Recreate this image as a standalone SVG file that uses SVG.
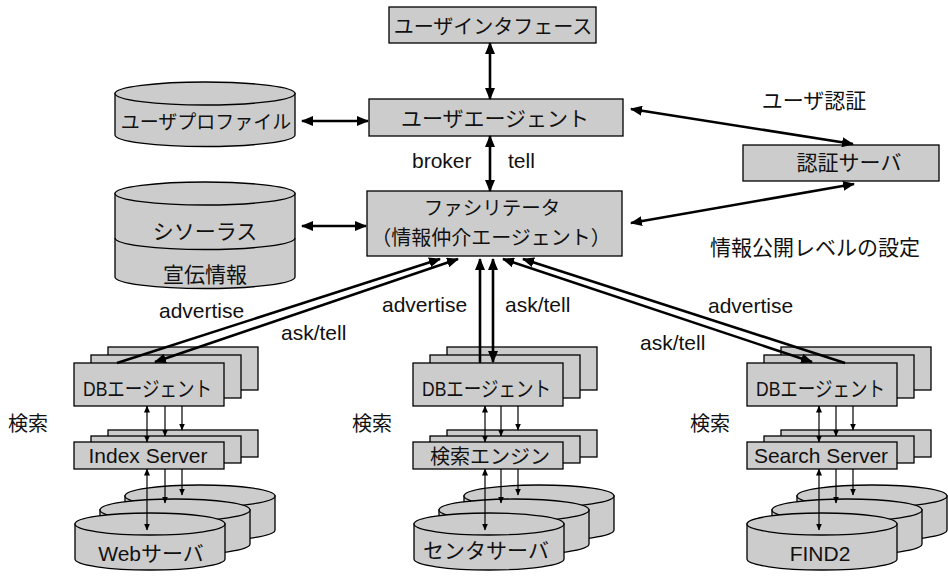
<svg xmlns="http://www.w3.org/2000/svg" width="948" height="576" viewBox="0 0 948 576">
<style>
.bx{fill:#cccccc;stroke:#000;stroke-width:1.3}
.cy{fill:#cccccc;stroke:#000;stroke-width:1.3}
.t{font-family:"Noto Sans CJK JP",sans-serif;font-size:21px;fill:#111;text-anchor:middle}
.l{font-family:"Liberation Sans","Noto Sans CJK JP",sans-serif;font-size:21px;fill:#111}
.lc{font-family:"Liberation Sans","Noto Sans CJK JP",sans-serif;font-size:21px;fill:#111;text-anchor:middle}
.k{stroke:#000;stroke-width:2.6;fill:none}
.s{stroke:#000;stroke-width:1.2;fill:none}
.big2{marker-start:url(#ah);marker-end:url(#ah)}
.big1{marker-end:url(#ah)}
.sm2{marker-start:url(#sh);marker-end:url(#sh)}
.sm1{marker-end:url(#sh)}
</style>
<defs>
<marker id="ah" viewBox="0 0 12 10" refX="11" refY="5" markerWidth="12" markerHeight="10" markerUnits="userSpaceOnUse" orient="auto-start-reverse"><path d="M0,0 L12,5 L0,10 z" fill="#000"/></marker>
<marker id="sh" viewBox="0 0 7 6" refX="6.5" refY="3" markerWidth="7" markerHeight="6" markerUnits="userSpaceOnUse" orient="auto-start-reverse"><path d="M0,0 L7,3 L0,6 z" fill="#000"/></marker>
</defs>

<g id="user-interface"><rect class="bx" x="389" y="7" width="207" height="36"/><text class="t" x="493" y="34" style="font-size:20px">ユーザインタフェース</text></g>
<g id="user-agent"><rect class="bx" x="369" y="99" width="254" height="37"/><text class="t" x="495" y="126">ユーザエージェント</text></g>
<g id="facilitator"><rect class="bx" x="367" y="191" width="255" height="65"/><text class="t" x="492" y="215" style="font-size:19.5px">ファシリテータ</text><text class="t" x="491" y="245" style="font-size:20px">（情報仲介エージェント）</text></g>
<g id="auth-server"><rect class="bx" x="743" y="145" width="196" height="36"/><text class="t" x="849" y="170">認証サーバ</text></g>

<g id="user-profile">
<path class="cy" d="M115,93.5 V135 A90,11.5 0 0 0 295,135 V93.5 Z"/>
<ellipse class="cy" cx="205" cy="93.5" rx="90" ry="11.5"/>
<text class="t" x="206" y="129" style="font-size:19px">ユーザプロファイル</text></g>
<g id="thesaurus">
<path class="cy" d="M115,193.5 V277 A90,11.5 0 0 0 295,277 V193.5 Z"/>
<ellipse class="cy" cx="205" cy="193.5" rx="90" ry="11.5"/>
<path class="s" style="stroke-width:1.3" d="M115,238 A90,11.5 0 0 0 295,238"/>
<text class="t" x="205" y="239">シソーラス</text>
<text class="t" x="205" y="282">宣伝情報</text></g>

<g id="labels">
<text class="t" x="814" y="108">ユーザ認証</text>
<text class="t" x="815" y="255">情報公開レベルの設定</text>
<text class="l" x="412" y="168">broker</text>
<text class="l" x="508" y="168">tell</text>
<text class="l" x="159" y="318">advertise</text>
<text class="l" x="281" y="340">ask/tell</text>
<text class="l" x="382" y="312">advertise</text>
<text class="l" x="505" y="312">ask/tell</text>
<text class="l" x="708" y="313">advertise</text>
<text class="l" x="640" y="350">ask/tell</text>
<text class="t" x="28" y="431" style="font-size:20px">検索</text>
<text class="t" x="372" y="431" style="font-size:20px">検索</text>
<text class="t" x="710" y="431" style="font-size:20px">検索</text>
</g>

<!-- left stack -->
<g id="db-agent-1"><rect class="bx" x="108" y="347" width="150" height="43"/><rect class="bx" x="91" y="355" width="150" height="43"/><rect class="bx" x="74" y="363" width="150" height="43"/><text class="lc" x="147.5" y="396" textLength="129" lengthAdjust="spacingAndGlyphs">DBエージェント</text></g>
<g id="index-server"><rect class="bx" x="108" y="430" width="150" height="27"/><rect class="bx" x="91" y="436" width="150" height="27"/><rect class="bx" x="74" y="442" width="150" height="27"/><text class="lc" x="148" y="463">Index Server</text></g>
<g id="web-server">
<path class="cy" d="M125,496 V530 A75,11 0 0 0 275,530 V496 Z"/><ellipse class="cy" cx="200" cy="496" rx="75" ry="11"/>
<path class="cy" d="M100,510 V544 A75,11 0 0 0 250,544 V510 Z"/><ellipse class="cy" cx="175" cy="510" rx="75" ry="11"/>
<path class="cy" d="M75,524 V559 A75,11 0 0 0 225,559 V524 Z"/><ellipse class="cy" cx="150" cy="524" rx="75" ry="11"/>
<text class="lc" x="151" y="561">Webサーバ</text></g>

<!-- middle stack -->
<g id="db-agent-2"><rect class="bx" x="447" y="347" width="150" height="43"/><rect class="bx" x="430" y="355" width="150" height="43"/><rect class="bx" x="413" y="363" width="150" height="43"/><text class="lc" x="486.5" y="396" textLength="129" lengthAdjust="spacingAndGlyphs">DBエージェント</text></g>
<g id="search-engine"><rect class="bx" x="447" y="430" width="150" height="27"/><rect class="bx" x="430" y="436" width="150" height="27"/><rect class="bx" x="413" y="442" width="150" height="27"/><text class="t" x="490" y="464" style="font-size:20px">検索エンジン</text></g>
<g id="center-server">
<path class="cy" d="M464,496 V530 A75,11 0 0 0 614,530 V496 Z"/><ellipse class="cy" cx="539" cy="496" rx="75" ry="11"/>
<path class="cy" d="M439,510 V544 A75,11 0 0 0 589,544 V510 Z"/><ellipse class="cy" cx="514" cy="510" rx="75" ry="11"/>
<path class="cy" d="M414,524 V559 A75,11 0 0 0 564,559 V524 Z"/><ellipse class="cy" cx="489" cy="524" rx="75" ry="11"/>
<text class="t" x="486" y="558">センタサーバ</text></g>

<!-- right stack -->
<g id="db-agent-3"><rect class="bx" x="781" y="347" width="150" height="43"/><rect class="bx" x="764" y="355" width="150" height="43"/><rect class="bx" x="747" y="363" width="150" height="43"/><text class="lc" x="820.5" y="396" textLength="129" lengthAdjust="spacingAndGlyphs">DBエージェント</text></g>
<g id="search-server"><rect class="bx" x="781" y="430" width="150" height="27"/><rect class="bx" x="764" y="436" width="150" height="27"/><rect class="bx" x="747" y="442" width="150" height="27"/><text class="lc" x="821" y="463">Search Server</text></g>
<g id="find2">
<path class="cy" d="M797,496 V530 A75,11 0 0 0 947,530 V496 Z"/><ellipse class="cy" cx="872" cy="496" rx="75" ry="11"/>
<path class="cy" d="M772,510 V544 A75,11 0 0 0 922,544 V510 Z"/><ellipse class="cy" cx="847" cy="510" rx="75" ry="11"/>
<path class="cy" d="M747,524 V559 A75,11 0 0 0 897,559 V524 Z"/><ellipse class="cy" cx="822" cy="524" rx="75" ry="11"/>
<text class="lc" x="820" y="561">FIND2</text></g>

<g id="connectors">
<line class="k big2" x1="490" y1="43" x2="490" y2="99"/>
<line class="k big2" x1="490" y1="136" x2="490" y2="191"/>
<line class="k big2" x1="302" y1="121" x2="368" y2="121"/>
<line class="k big2" x1="302" y1="226" x2="366" y2="226"/>
<line class="k big2" x1="631" y1="109" x2="853" y2="144"/>
<line class="k big2" x1="631" y1="223" x2="854" y2="184"/>
<line class="k big1" x1="117" y1="363" x2="440" y2="259"/>
<line class="k big2" x1="155" y1="362" x2="458" y2="259"/>
<line class="k big1" x1="480" y1="363" x2="480" y2="259"/>
<line class="k big2" x1="493" y1="362" x2="493" y2="259"/>
<line class="k big1" x1="845" y1="363" x2="523" y2="259"/>
<line class="k big2" x1="812" y1="362" x2="503" y2="259"/>

<line class="s sm2" x1="147" y1="406" x2="147" y2="442"/>
<line class="s sm1" x1="165" y1="406" x2="165" y2="436"/>
<line class="s sm1" x1="182" y1="406" x2="182" y2="430"/>
<line class="s sm2" x1="147" y1="469" x2="147" y2="530"/>
<line class="s sm1" x1="165" y1="469" x2="165" y2="503"/>
<line class="s sm1" x1="182" y1="469" x2="182" y2="495"/>

<line class="s sm2" x1="485" y1="406" x2="485" y2="442"/>
<line class="s sm1" x1="501" y1="406" x2="501" y2="436"/>
<line class="s sm1" x1="518" y1="406" x2="518" y2="430"/>
<line class="s sm2" x1="485" y1="469" x2="485" y2="530"/>
<line class="s sm1" x1="501" y1="469" x2="501" y2="503"/>
<line class="s sm1" x1="518" y1="469" x2="518" y2="495"/>

<line class="s sm2" x1="819" y1="406" x2="819" y2="442"/>
<line class="s sm1" x1="836" y1="406" x2="836" y2="436"/>
<line class="s sm1" x1="853" y1="406" x2="853" y2="430"/>
<line class="s sm2" x1="819" y1="469" x2="819" y2="530"/>
<line class="s sm1" x1="836" y1="469" x2="836" y2="503"/>
<line class="s sm1" x1="853" y1="469" x2="853" y2="495"/>
</g>
</svg>
